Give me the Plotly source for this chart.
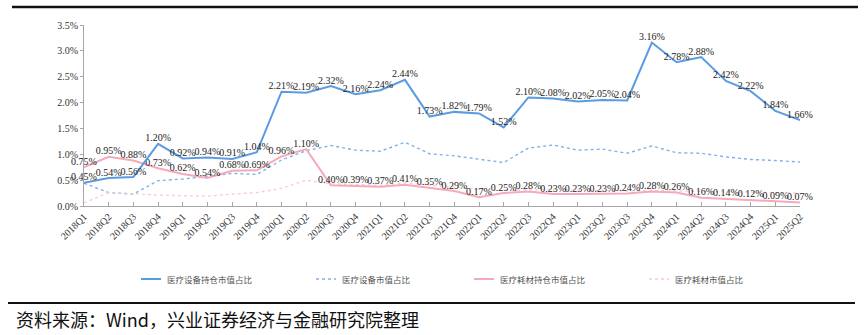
import plotly.graph_objects as go

quarters = [
    "2018Q1", "2018Q2", "2018Q3", "2018Q4",
    "2019Q1", "2019Q2", "2019Q3", "2019Q4",
    "2020Q1", "2020Q2", "2020Q3", "2020Q4",
    "2021Q1", "2021Q2", "2021Q3", "2021Q4",
    "2022Q1", "2022Q2", "2022Q3", "2022Q4",
    "2023Q1", "2023Q2", "2023Q3", "2023Q4",
    "2024Q1", "2024Q2", "2024Q3", "2024Q4",
    "2025Q1", "2025Q2",
]

# 医疗设备持仓市值占比 (%)
equip_holding = [
    0.45, 0.54, 0.56, 1.20, 0.92, 0.94, 0.91, 1.04,
    2.21, 2.19, 2.32, 2.16, 2.24, 2.44, 1.73, 1.82,
    1.79, 1.52, 2.10, 2.08, 2.02, 2.05, 2.04, 3.16,
    2.78, 2.88, 2.42, 2.22, 1.84, 1.66,
]

# 医疗设备市值占比 (%)
equip_market = [
    0.44, 0.26, 0.23, 0.49, 0.52, 0.57, 0.63, 0.61,
    0.89, 1.07, 1.17, 1.08, 1.06, 1.23, 1.01, 0.97,
    0.90, 0.84, 1.12, 1.18, 1.08, 1.10, 1.02, 1.16,
    1.03, 1.02, 0.95, 0.90, 0.88, 0.85,
]

# 医疗耗材持仓市值占比 (%)
consum_holding = [
    0.75, 0.95, 0.88, 0.73, 0.62, 0.54, 0.68, 0.69,
    0.96, 1.10, 0.40, 0.39, 0.37, 0.41, 0.35, 0.29,
    0.17, 0.25, 0.28, 0.23, 0.23, 0.23, 0.24, 0.28,
    0.26, 0.16, 0.14, 0.12, 0.09, 0.07,
]

# 医疗耗材市值占比 (%)
consum_market = [
    0.06, 0.26, 0.24, 0.21, 0.20, 0.19, 0.23, 0.26,
    0.34, 0.50, 0.43, 0.41, 0.40, 0.45, 0.40, 0.37,
    0.32, 0.30, 0.31, 0.32, 0.31, 0.30, 0.29, 0.30,
    0.29, 0.28, 0.27, 0.26, 0.26, 0.25,
]

series_names = ["医疗设备持仓市值占比", "医疗设备市值占比", "医疗耗材持仓市值占比", "医疗耗材市值占比"]
y_ticks = [0, 0.5, 1.0, 1.5, 2.0, 2.5, 3.0, 3.5]
y_tick_text = [f"{v:.1f}%" for v in y_ticks]
source_text = "资料来源：Wind，兴业证券经济与金融研究院整理"

BLUE = "#5b9be3"
BLUE_LIGHT = "#7fb2ea"
PINK = "#f6a9ba"
PINK_LIGHT = "#f9c9d4"
SERIF = "Liberation Serif, Times New Roman, DejaVu Serif, serif"
CJK = "Noto Sans CJK SC"

W, H = 865, 335
ML, MR, MT, MB = 84, 65, 25, 129
PW, PH = W - ML - MR, H - MT - MB


def px_x(px):
    return (px - ML) / PW


def px_y(py):
    return (H - MB - py) / PH


fig = go.Figure()

fig.add_trace(go.Scatter(
    x=quarters, y=equip_market, mode="lines", name=series_names[1],
    line=dict(color=BLUE_LIGHT, width=1.4, dash="dot"),
))
fig.add_trace(go.Scatter(
    x=quarters, y=consum_market, mode="lines", name=series_names[3],
    line=dict(color=PINK_LIGHT, width=1.3, dash="dot"),
))
fig.add_trace(go.Scatter(
    x=quarters, y=consum_holding, mode="lines+text", name=series_names[2],
    line=dict(color=PINK, width=2),
    text=[f"{v:.2f}%" for v in consum_holding], textposition="top center",
    textfont=dict(family=SERIF, size=10, color="#222"), cliponaxis=False,
))
fig.add_trace(go.Scatter(
    x=quarters, y=equip_holding, mode="lines+text", name=series_names[0],
    line=dict(color=BLUE, width=2),
    text=[f"{v:.2f}%" for v in equip_holding], textposition="top center",
    textfont=dict(family=SERIF, size=10, color="#222"), cliponaxis=False,
))

fig.update_layout(
    width=W, height=H,
    margin=dict(l=ML, r=MR, t=MT, b=MB),
    paper_bgcolor="white", plot_bgcolor="white",
    showlegend=False,
    xaxis=dict(
        type="category", range=[0, len(quarters) - 1],
        showgrid=False, showline=True, linecolor="#a6a6a6", linewidth=1,
        ticks="inside", ticklen=4, tickcolor="#a6a6a6",
        tickangle=-45, tickfont=dict(family=SERIF, size=10, color="#333"),
    ),
    yaxis=dict(
        range=[0, 3.5], tickvals=y_ticks, ticktext=y_tick_text,
        showgrid=False, zeroline=False, showline=True, linecolor="#a6a6a6", linewidth=1,
        ticks="outside", ticklen=3, tickcolor="#a6a6a6",
        tickfont=dict(family=SERIF, size=10, color="#333"),
    ),
)

# legend drawn as short line samples with labels below the axis
legend_items = [
    (141, BLUE, "solid", 2, series_names[0]),
    (316, BLUE_LIGHT, "dot", 1.4, series_names[1]),
    (474, PINK, "solid", 2, series_names[2]),
    (649, PINK_LIGHT, "dot", 1.4, series_names[3]),
]
leg_y = 279
for x0, color, dash, width, label in legend_items:
    fig.add_shape(type="line", xref="paper", yref="paper",
                  x0=px_x(x0), x1=px_x(x0 + 20), y0=px_y(leg_y), y1=px_y(leg_y),
                  line=dict(color=color, width=width, dash=dash))
    fig.add_annotation(xref="paper", yref="paper", x=px_x(x0 + 24), y=px_y(leg_y),
                       xanchor="left", yanchor="middle", showarrow=False,
                       text=label, font=dict(family=CJK, size=8.5, color="#555"))

# rules at top and bottom of the panel
fig.add_shape(type="line", xref="paper", yref="paper",
              x0=px_x(12), x1=px_x(858), y0=px_y(7), y1=px_y(7),
              line=dict(color="#111", width=2.5))
fig.add_shape(type="line", xref="paper", yref="paper",
              x0=px_x(8), x1=px_x(855), y0=px_y(303), y1=px_y(303),
              line=dict(color="#111", width=2))

fig.add_annotation(xref="paper", yref="paper", x=px_x(14), y=px_y(319),
                   xanchor="left", yanchor="middle", showarrow=False,
                   text=source_text, font=dict(family=CJK, size=18, color="#111"))

fig.write_html("out.html")
